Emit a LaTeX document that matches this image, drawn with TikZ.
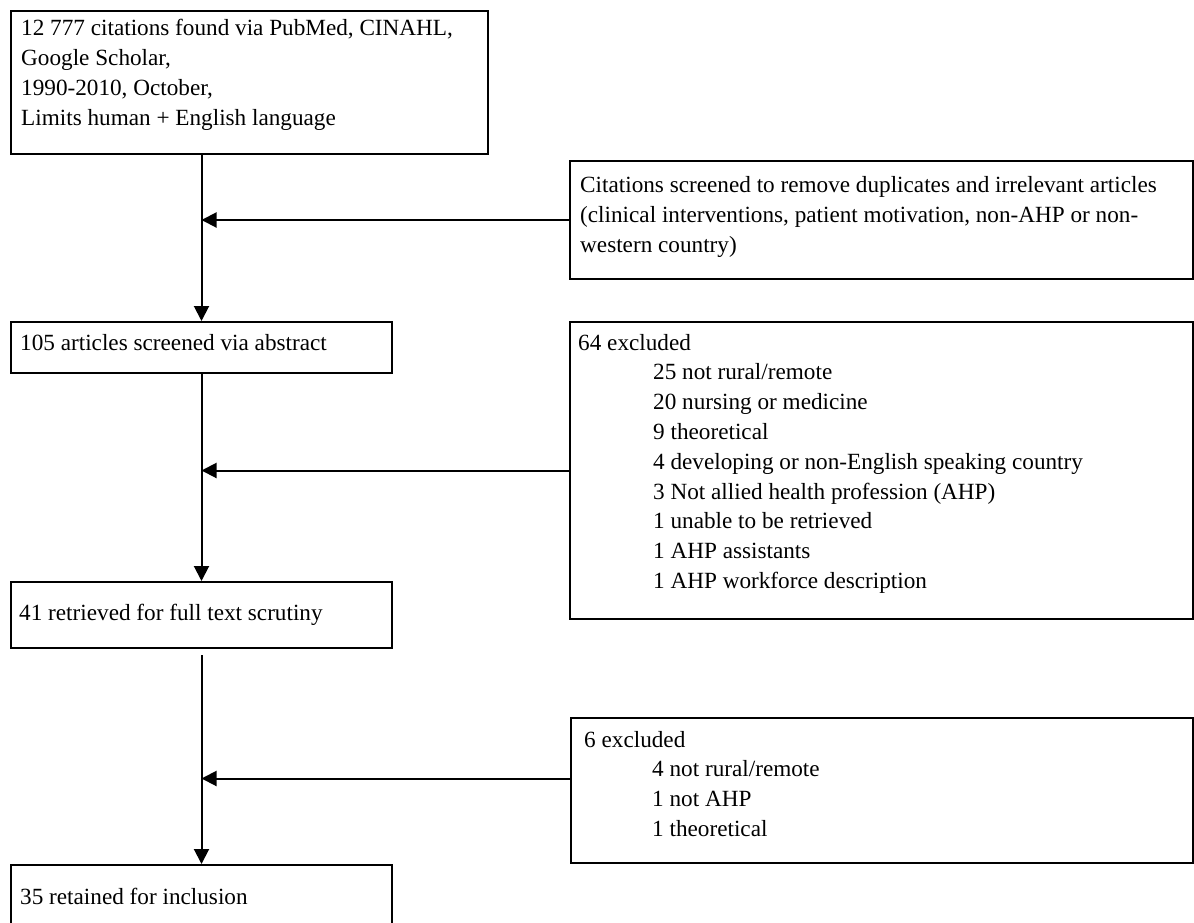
\documentclass[tikz,border=0pt]{standalone}
\usepackage{fontspec}
\setmainfont{Liberation Serif}
\usetikzlibrary{arrows.meta,calc}
\begin{document}
\begin{tikzpicture}[x=1pt,y=-1pt,
  frame/.style={draw, line width=2pt, inner sep=0pt, anchor=north west},
  txt/.style={anchor=base west, inner sep=0pt, font=\fontsize{23.2}{29.8}\selectfont},
  conn/.style={line width=2pt},
  arr/.style={conn, -{Triangle[length=15pt,width=15pt]}}]
\useasboundingbox (0,0) rectangle (1194,923);
% boxes
\node[frame, minimum width=477pt, minimum height=143pt] (b1) at (10,10) {};
\node[frame, minimum width=623pt, minimum height=118pt] (bc) at (569,160) {};
\node[frame, minimum width=381pt, minimum height=51pt] (b2) at (10,321) {};
\node[frame, minimum width=623pt, minimum height=297pt] (b64) at (569,321) {};
\node[frame, minimum width=381pt, minimum height=66pt] (b41) at (10,581) {};
\node[frame, minimum width=622pt, minimum height=145pt] (b6) at (570,717) {};
\node[frame, minimum width=381pt, minimum height=100pt] (b35) at (10,864) {};
% texts
\node[txt] (t1) at (21,36) {\parbox[t]{460pt}{\raggedright 12 777 citations found via PubMed, CINAHL,\\Google Scholar,\\1990-2010, October,\\Limits human + English language}};
\node[txt] (tc) at (580,193) {\parbox[t]{610pt}{\raggedright Citations screened to remove duplicates and irrelevant articles\\(clinical interventions, patient motivation, non-AHP or non-\\western country)}};
\node[txt] (t2) at (20,350) {105 articles screened via abstract};
\node[txt] (t64) at (578,350) {\parbox[t]{610pt}{\raggedright 64 excluded\\
\hspace*{75pt}25 not rural/remote\\
\hspace*{75pt}20 nursing or medicine\\
\hspace*{75pt}9 theoretical\\
\hspace*{75pt}4 developing or non-English speaking country\\
\hspace*{75pt}3 Not allied health profession (AHP)\\
\hspace*{75pt}1 unable to be retrieved\\
\hspace*{75pt}1 AHP assistants\\
\hspace*{75pt}1 AHP workforce description}};
\node[txt] (t41) at (19,620) {41 retrieved for full text scrutiny};
\node[txt] (t6) at (584,747) {\parbox[t]{600pt}{\raggedright 6 excluded\\
\hspace*{68pt}4 not rural/remote\\
\hspace*{68pt}1 not AHP\\
\hspace*{68pt}1 theoretical}};
\node[txt] (t35) at (20,904) {35 retained for inclusion};
% connectors
\draw[arr] (b1.south -| b2.north) -- (b2.north);
\draw[arr] (bc.west) -- (bc.west -| b2.north);
\draw[arr] (b2.south) -- (b41.north);
\draw[arr] (b64.west) -- (b64.west -| b2.north);
\coordinate (s41) at ($(b41.south)+(0,6)$);
\draw[arr] (s41) -- (b35.north);
\coordinate (a6) at ($(b6.west)+(0,-12)$);
\draw[arr] (a6) -- (a6 -| b2.north);
\end{tikzpicture}
\end{document}
